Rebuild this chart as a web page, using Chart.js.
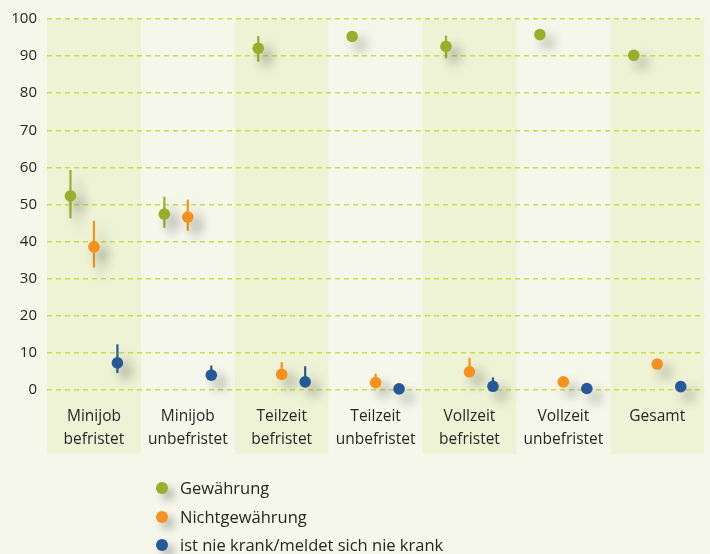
<!DOCTYPE html>
<html>
<head>
<meta charset="utf-8">
<script src="https://cdn.jsdelivr.net/npm/chart.js@4"></script>
<style>
  html, body { margin: 0; padding: 0; background: #f5f7ea; }
  #wrap { position: relative; width: 710px; height: 554px; }
  canvas { display: block; }
  #legend { position: absolute; left: 156px; top: 476px; font-family: "Open Sans", sans-serif; font-size: 16.5px; color: #262626; }
  .item { position: relative; height: 28.5px; line-height: 24px; padding-left: 24px; white-space: nowrap; }
  .dot { position: absolute; left: 0; top: 6px; width: 12px; height: 12px; border-radius: 50%; box-shadow: 6px 6px 8px rgba(70,70,70,0.4); }
</style>
</head>
<body>
<div id="wrap">
  <canvas id="c" width="710" height="554"></canvas>
  <div id="legend"></div>
</div>
<script>
// ---- data ----
const categories = [
  ['Minijob', 'befristet'],
  ['Minijob', 'unbefristet'],
  ['Teilzeit', 'befristet'],
  ['Teilzeit', 'unbefristet'],
  ['Vollzeit', 'befristet'],
  ['Vollzeit', 'unbefristet'],
  ['Gesamt']
];
const seriesNames = ['Gewährung', 'Nichtgewährung', 'ist nie krank/meldet sich nie krank'];
const gewaehrung      = [52.3, 47.4, 92.1, 95.3, 92.6, 95.8, 90.2];
const gewaehrungLow   = [46.3, 43.7, 88.5, 95.3, 89.4, 95.8, 90.2];
const gewaehrungHigh  = [59.3, 52.1, 95.4, 96.0, 95.5, 95.8, 90.2];
const nicht           = [38.6, 46.6, 4.2, 2.0, 4.9, 2.2, 7.0];
const nichtLow        = [33.0, 42.9, 4.2, 2.0, 4.9, 2.2, 7.0];
const nichtHigh       = [45.6, 51.3, 7.5, 4.4, 8.7, 2.2, 7.0];
const nie             = [7.3, 4.0, 2.2, 0.3, 1.0, 0.4, 0.9];
const nieLow          = [4.6, 4.0, 2.2, 0.3, 1.0, 0.4, 0.9];
const nieHigh         = [12.3, 6.6, 6.4, 0.3, 3.4, 0.4, 0.9];
const yTicks = [0, 10, 20, 30, 40, 50, 60, 70, 80, 90, 100];
const colors = ['#9aae2b', '#f7911e', '#27599a'];
const offsets = [-0.25, 0, 0.25];

function mk(vals, lo, hi, s) {
  return {
    label: seriesNames[s],
    data: vals.map((v, i) => ({x: i + offsets[s], y: v, lo: lo[i], hi: hi[i]})),
    backgroundColor: colors[s],
    borderColor: colors[s],
    borderWidth: 0,
    pointRadius: 5.8,
    pointHoverRadius: 5.8,
    clip: false
  };
}

const bands = {
  id: 'bands',
  beforeDraw(chart) {
    const {ctx, chartArea, scales: {x}} = chart;
    ctx.save();
    ctx.fillStyle = '#eef3d6';
    for (let i = 0; i < categories.length; i += 2) {
      const l = x.getPixelForValue(i - 0.5), r = x.getPixelForValue(i + 0.5);
      ctx.fillRect(l, chartArea.top, r - l, 454 - chartArea.top);
    }
    ctx.restore();
  }
};

const shadowBars = {
  id: 'shadowBars',
  beforeDatasetDraw(chart, args) {
    const ctx = chart.ctx;
    ctx.save();
    ctx.shadowColor = 'rgba(60,60,60,0.4)';
    ctx.shadowBlur = 12;
    ctx.shadowOffsetX = 8;
    ctx.shadowOffsetY = 8;
    const ds = chart.data.datasets[args.index];
    const {x, y} = chart.scales;
    ctx.strokeStyle = ds.borderColor;
    ctx.lineWidth = 2.2;
    ds.data.forEach(p => {
      if (p.hi - p.lo > 0.01) {
        const px = x.getPixelForValue(p.x);
        ctx.beginPath();
        ctx.moveTo(px, y.getPixelForValue(p.hi));
        ctx.lineTo(px, y.getPixelForValue(p.lo));
        ctx.stroke();
      }
    });
  },
  afterDatasetDraw(chart) {
    chart.ctx.restore();
  }
};

new Chart(document.getElementById('c'), {
  type: 'scatter',
  data: {
    datasets: [
      mk(gewaehrung, gewaehrungLow, gewaehrungHigh, 0),
      mk(nicht, nichtLow, nichtHigh, 1),
      mk(nie, nieLow, nieHigh, 2)
    ]
  },
  options: {
    responsive: false,
    animation: false,
    events: [],
    layout: { padding: { left: 0, right: 5, top: 15, bottom: 94 } },
    plugins: { legend: { display: false }, tooltip: { enabled: false } },
    scales: {
      x: {
        type: 'linear',
        min: -0.5,
        max: 6.5,
        afterBuildTicks: s => { s.ticks = categories.map((c, i) => ({value: i})); },
        afterFit: s => { s.height = 70; },
        grid: { display: false },
        border: { display: false },
        ticks: {
          callback: v => categories[v],
          padding: 7,
          color: '#262626',
          font: { family: 'Open Sans', size: 15.5, lineHeight: 1.5 },
          maxRotation: 0,
          autoSkip: false
        }
      },
      y: {
        min: 0,
        max: 100,
        afterBuildTicks: s => { s.ticks = yTicks.map(v => ({value: v})); },
        afterFit: s => { s.width = 47; },
        border: { display: false, dash: [5, 4] },
        grid: {
          color: '#c9df45',
          lineWidth: 1.4,
          drawTicks: false
        },
        ticks: {
          padding: 10,
          color: '#262626',
          font: { family: 'Open Sans', size: 15 }
        }
      }
    }
  },
  plugins: [bands, shadowBars]
});

// HTML legend
const leg = document.getElementById('legend');
seriesNames.forEach((n, i) => {
  const d = document.createElement('div');
  d.className = 'item';
  d.innerHTML = '<span class="dot" style="background:' + colors[i] + '"></span>' + n;
  leg.appendChild(d);
});
</script>
</body>
</html>
